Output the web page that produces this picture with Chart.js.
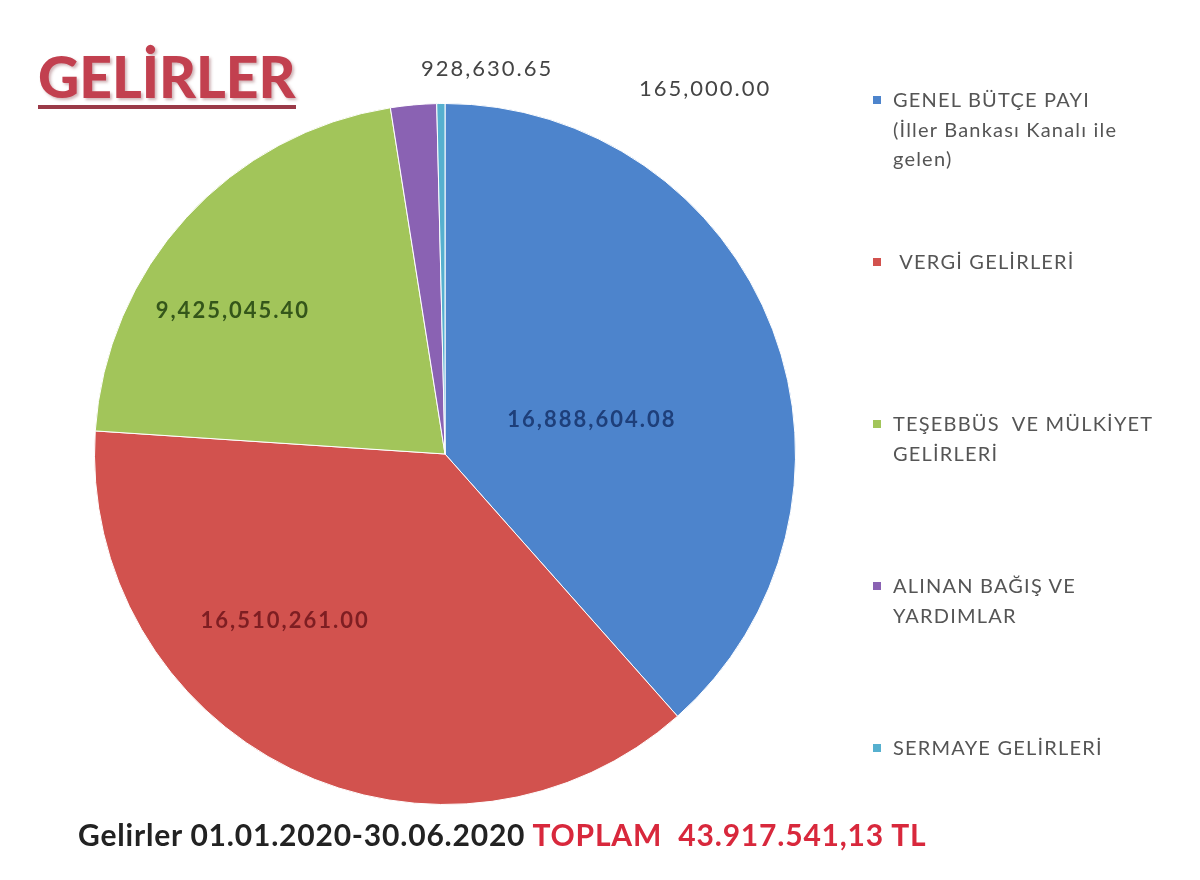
<!DOCTYPE html>
<html>
<head>
<meta charset="utf-8">
<script src="https://cdn.jsdelivr.net/npm/chart.js@4/dist/chart.umd.min.js"></script>
<style>
  html,body{margin:0;padding:0;background:#fff;}
  #wrap{position:relative;width:1200px;height:880px;overflow:hidden;font-family:Lato,"Open Sans",sans-serif;}
  #c{position:absolute;left:0;top:0;}
  #title{position:absolute;left:38px;top:47px;font-size:57px;font-weight:900;color:#c2404f;
         text-shadow:2px 2px 3px rgba(120,40,50,0.35);
         border-bottom:4px solid #9a3a48;line-height:58px;padding-bottom:0px;}
  #legend{position:absolute;left:870px;top:85px;width:330px;}
  .li{position:relative;height:162px;font-size:20px;letter-spacing:1.2px;color:#555;line-height:29.5px;white-space:pre-wrap;padding-left:23px;box-sizing:border-box;}
  .sw{position:absolute;left:3px;top:11px;width:8px;height:8px;}
  #foot{position:absolute;left:78px;top:816px;font-size:30px;font-weight:700;letter-spacing:0.8px;color:#222;white-space:pre;}
  #foot span{color:#d8283c;}
</style>
</head>
<body>
<div id="wrap">
  <canvas id="c" width="1200" height="880"></canvas>
  <div id="title">GELİRLER</div>
  <div id="legend"></div>
  <div id="foot">Gelirler 01.01.2020-30.06.2020 <span>TOPLAM  43.917.541,13 TL</span></div>
</div>
<script>
const categories = [
  "GENEL BÜTÇE PAYI\n(İller Bankası Kanalı ile\ngelen)",
  " VERGİ GELİRLERİ",
  "TEŞEBBÜS  VE MÜLKİYET\nGELİRLERİ",
  "ALINAN BAĞIŞ VE\nYARDIMLAR",
  "SERMAYE GELİRLERİ"
];
const values = [16888604.08, 16510261.00, 9425045.40, 928630.65, 165000.00];
const valueLabels = ["16,888,604.08", "16,510,261.00", "9,425,045.40", "928,630.65", "165,000.00"];
const sliceColors = ["#4d84cc", "#d2524e", "#a2c55a", "#8a62b3", "#56b0cf"];
const labelColors = ["#1e3f7a", "#7e1e22", "#34561a", "#444", "#444"];
// label placement: angle offset from slice mid-angle (deg) and radius fraction
const labelPlacement = [
  {da: 7.8, rf: 0.43},
  {da: 17.6, rf: 0.66},
  {da: -8.4, rf: 0.73},
  {da: 11.4, rf: 1.105},
  {da: 36.1, rf: 1.28}
];

const labelPlugin = {
  id: 'sliceLabels',
  afterDatasetsDraw(chart) {
    const ctx = chart.ctx;
    const meta = chart.getDatasetMeta(0);
    ctx.save();
    ctx.textAlign = 'center';
    ctx.textBaseline = 'middle';
    meta.data.forEach((arc, i) => {
      const p = arc.getProps(['x','y','startAngle','endAngle','outerRadius'], true);
      const mid = (p.startAngle + p.endAngle) / 2 + labelPlacement[i].da * Math.PI / 180;
      const r = p.outerRadius * labelPlacement[i].rf;
      const x = p.x + Math.cos(mid) * r;
      const y = p.y + Math.sin(mid) * r;
      ctx.font = (i < 3 ? '700 ' : '400 ') + '22px Lato, "Open Sans", sans-serif';
      try { ctx.letterSpacing = '2px'; } catch (e) {}
      ctx.fillStyle = labelColors[i];
      ctx.fillText(valueLabels[i], x, y);
    });
    ctx.restore();
  }
};

const chart = new Chart(document.getElementById('c'), {
  type: 'pie',
  data: {
    labels: categories,
    datasets: [{
      data: values,
      backgroundColor: sliceColors,
      borderColor: '#ffffff',
      borderWidth: 1
    }]
  },
  options: {
    responsive: false,
    animation: false,
    layout: {padding: {left: 94, right: 404, top: 103, bottom: 75}},
    plugins: {legend: {display: false}, tooltip: {enabled: false}}
  },
  plugins: [labelPlugin]
});

const leg = document.getElementById('legend');
categories.forEach((c, i) => {
  const d = document.createElement('div');
  d.className = 'li';
  const sw = document.createElement('div');
  sw.className = 'sw';
  sw.style.background = sliceColors[i];
  d.appendChild(sw);
  d.appendChild(document.createTextNode(c));
  leg.appendChild(d);
});
</script>
</body>
</html>
